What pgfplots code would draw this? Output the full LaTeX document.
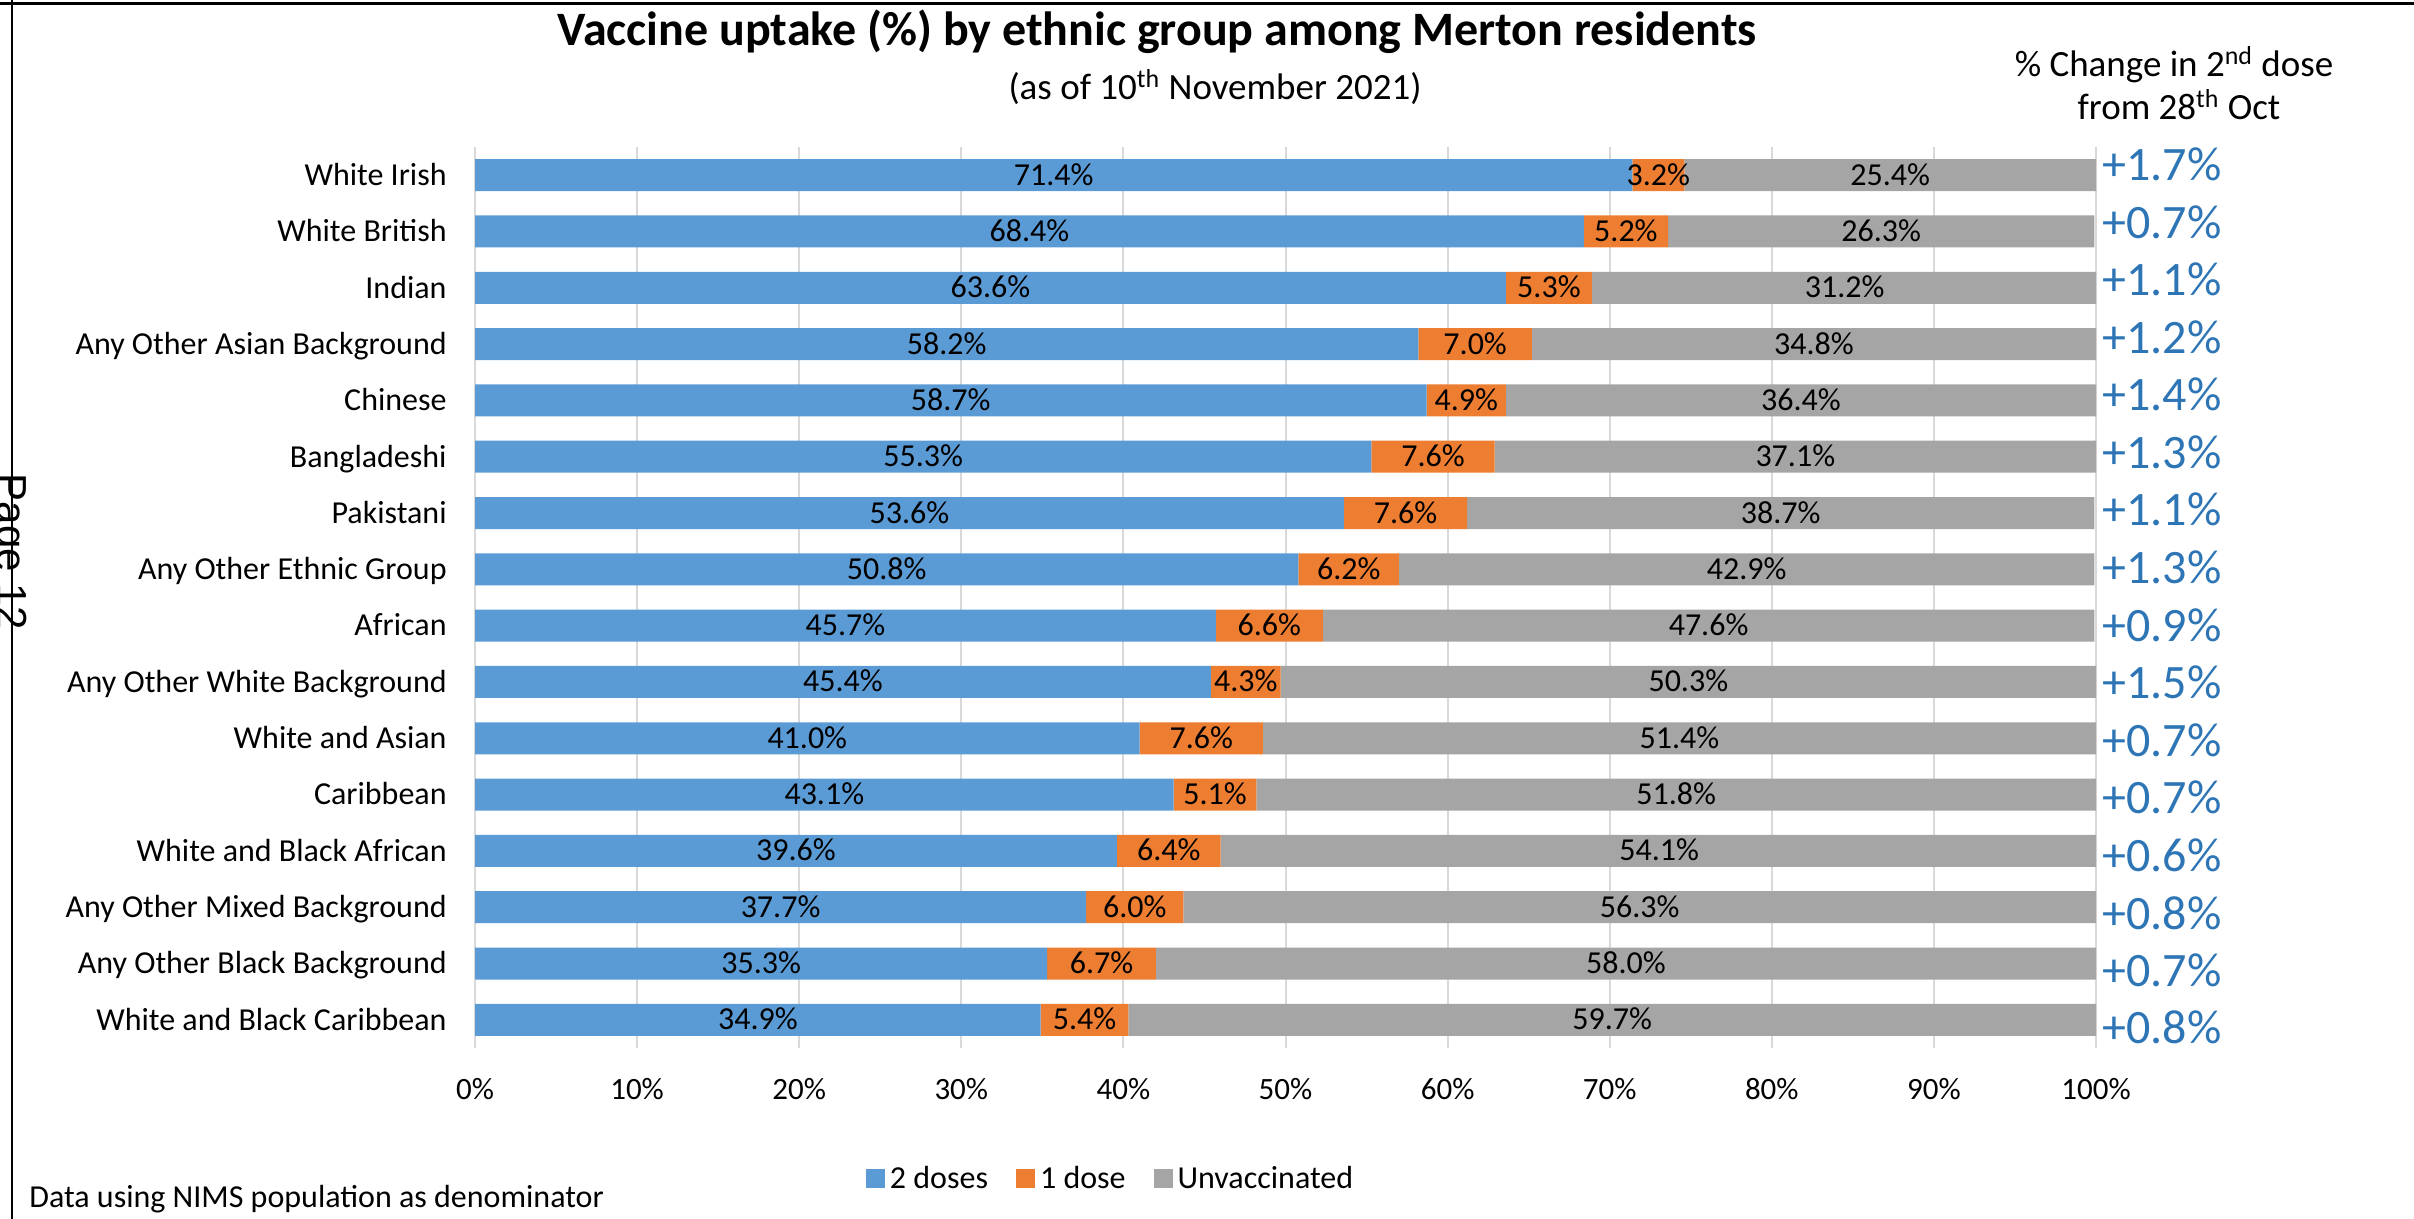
\documentclass[border=0pt]{standalone}
\usepackage{fontspec}
\setmainfont{Carlito}
\newfontfamily\arialfont{Liberation Sans}
\usepackage{pgfplots}
\usepackage{pgfplotstable}
\pgfplotsset{compat=1.18}

\definecolor{twodose}{HTML}{5B9BD5}
\definecolor{onedose}{HTML}{ED7D31}
\definecolor{unvax}{HTML}{A5A5A5}
\definecolor{chgblue}{HTML}{2E75B6}
\definecolor{gridgray}{HTML}{D9D9D9}

% uptake shares (%) per ethnic group, top to bottom;
% chg = change in 2nd dose since 28 Oct, cpos = row position of that label
\pgfplotstableread{
idx two  one unv  chg cpos
0   71.4 3.2 25.4 1.7 -0.19
1   68.4 5.2 26.3 0.7 0.83
2   63.6 5.3 31.2 1.1 1.85
3   58.2 7.0 34.8 1.2 2.88
4   58.7 4.9 36.4 1.4 3.90
5   55.3 7.6 37.1 1.3 4.92
6   53.6 7.6 38.7 1.1 5.94
7   50.8 6.2 42.9 1.3 6.96
8   45.7 6.6 47.6 0.9 7.99
9   45.4 4.3 50.3 1.5 9.01
10  41.0 7.6 51.4 0.7 10.03
11  43.1 5.1 51.8 0.7 11.05
12  39.6 6.4 54.1 0.6 12.07
13  37.7 6.0 56.3 0.8 13.10
14  35.3 6.7 58.0 0.7 14.12
15  34.9 5.4 59.7 0.8 15.14
}\uptake

\pgfplotsset{
  frame/.style={
    at={(237.5pt,85.5pt)}, anchor=south west,
    scale only axis, width=810.5pt, height=450.5pt,
    xmin=0, xmax=100, ymin=-0.5, ymax=15.5, y dir=reverse,
    /pgf/number format/assume math mode=true,
  },
  pct/.style={
    nodes near coords={\pgfmathprintnumber[fixed,fixed zerofill,precision=1]{\pgfplotspointmeta}\%},
    point meta=explicit,
    every node near coord/.append style={anchor=base, inner sep=0pt, yshift=-5pt,
      text=black, font=\fontsize{16}{19}\selectfont},
  },
}

\begin{document}
\begin{tikzpicture}
\begin{axis}[
  frame,
  xbar stacked, bar width=16pt,
  xtick={0,10,...,100},
  xticklabel={\pgfmathprintnumber{\tick}\%},
  ytick={0,...,15},
  yticklabels={White Irish, White British, Indian, Any Other Asian Background,
    Chinese, Bangladeshi, Pakistani, Any Other Ethnic Group, African,
    Any Other White Background, White and Asian, Caribbean,
    White and Black African, Any Other Mixed Background,
    Any Other Black Background, White and Black Caribbean},
  xmajorgrids, ymajorgrids=false,
  grid style={gridgray, line width=1pt},
  axis line style={draw=none}, major tick length=0pt,
  xticklabel style={font=\fontsize{15.5}{18}\selectfont, anchor=base, inner sep=0pt, yshift=-25.5pt},
  yticklabel style={font=\fontsize{16}{19}\selectfont, anchor=base east, inner sep=0pt,
    xshift=-14pt, yshift=-5.15pt},
  legend columns=3,
  legend image code/.code={\fill[#1] (0pt,-4.75pt) rectangle (9.5pt,4.75pt);},
  legend style={at={(0.393,-0.145)}, anchor=center, draw=none, fill=none,
    font=\fontsize{16}{19}\selectfont, nodes={inner sep=2.5pt},
    /tikz/every even column/.append style={column sep=11.5pt}},
]
\addplot[fill=twodose, draw=none] table[x=two, y=idx]{\uptake};
\addplot[fill=onedose, draw=none] table[x=one, y=idx]{\uptake};
\addplot[fill=unvax, draw=none] table[x=unv, y=idx]{\uptake};
\legend{2 doses, 1 dose, Unvaccinated}
\end{axis}

% value labels centred in each segment, and the change column on the right
\begin{axis}[frame, hide axis, clip=false]
\addplot[draw=none, mark=none, pct] table[x expr=\thisrow{two}/2, y=idx, meta=two]{\uptake};
\addplot[draw=none, mark=none, pct] table[x expr=\thisrow{two}+\thisrow{one}/2, y=idx, meta=one]{\uptake};
\addplot[draw=none, mark=none, pct] table[x expr=\thisrow{two}+\thisrow{one}+\thisrow{unv}/2, y=idx, meta=unv]{\uptake};
\addplot[draw=none, mark=none,
  nodes near coords={+\pgfmathprintnumber[fixed,fixed zerofill,precision=1]{\pgfplotspointmeta}\%},
  point meta=explicit,
  every node near coord/.append style={anchor=west, inner sep=0pt, xshift=3pt,
    text=chgblue, font=\fontsize{24}{29}\selectfont}]
  table[x expr=100, y=cpos, meta=chg]{\uptake};
\end{axis}

\begin{scope}[x=0.5pt, y=-0.5pt, shift={(0pt,609.5pt)}]
  \draw[line width=1.65pt] (0,3.3) -- (2414,3.3);
  \draw[line width=1.15pt] (12,0) -- (12,1219);
  \node[rotate=-90, anchor=north, inner sep=0pt, font=\arialfont\fontsize{21}{25}\selectfont]
    at (27,552) {Page 12};
  \node[anchor=base, inner sep=0pt, font=\bfseries\fontsize{24}{29}\selectfont]
    at (1157,46) {Vaccine uptake (\%) by ethnic group among Merton residents};
  \node[anchor=base, inner sep=0pt, font=\fontsize{18.5}{22}\selectfont]
    at (1215,100) {(as of 10\textsuperscript{th} November 2021)};
  \node[anchor=base, inner sep=0pt, font=\fontsize{18.5}{22}\selectfont]
    at (2174,77) {\% Change in 2\textsuperscript{nd} dose};
  \node[anchor=base, inner sep=0pt, font=\fontsize{18.5}{22}\selectfont]
    at (2179,120) {from 28\textsuperscript{th} Oct};
  \node[anchor=base west, inner sep=0pt, font=\fontsize{16}{19}\selectfont]
    at (29,1208) {Data using NIMS population as denominator};
\end{scope}

\pgfresetboundingbox
\path[use as bounding box] (0pt,0pt) rectangle (1207pt,609.5pt);
\end{tikzpicture}
\end{document}
